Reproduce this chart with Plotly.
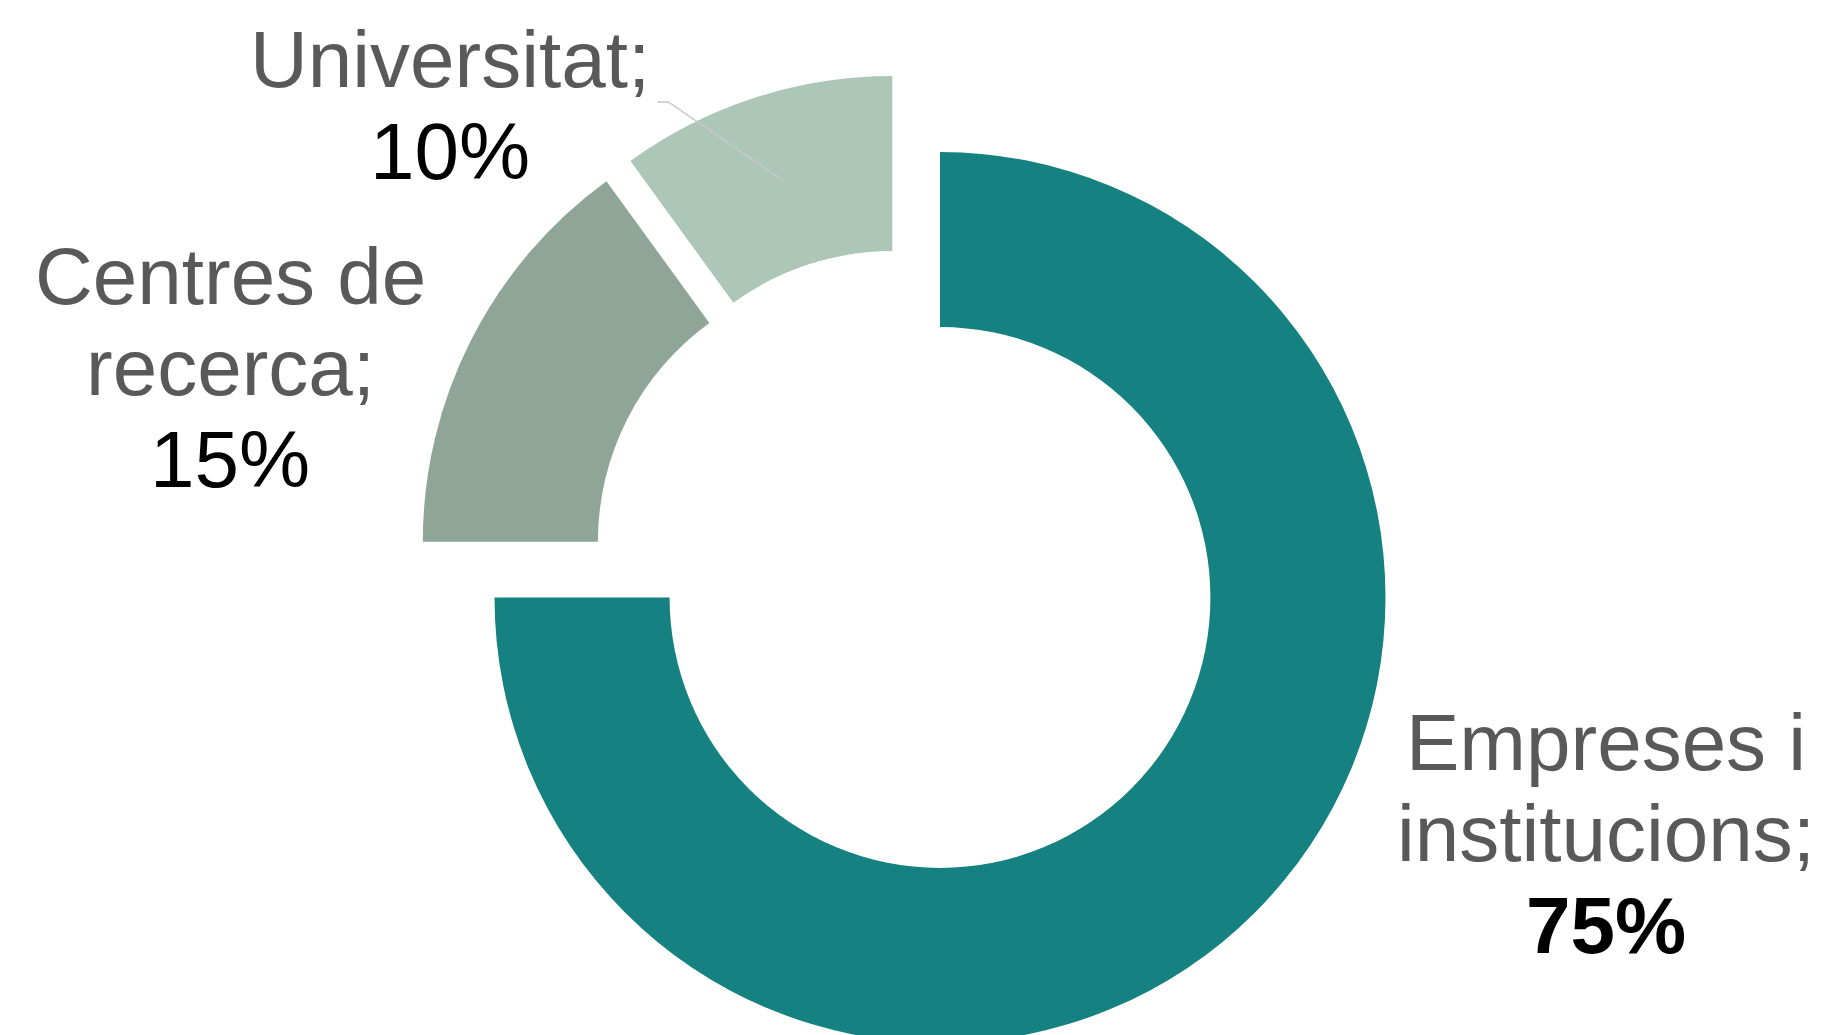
import textwrap
import plotly.graph_objects as go

# ---- data ----
categories = ["Empreses i institucions", "Centres de recerca", "Universitat"]
values = [75, 15, 10]
colors = ["#158180", "#8EA598", "#ACC6B8"]

# ---- layout geometry (screen pixels) ----
W, H = 1824, 1050
OFF = 8  # page body margin
R_OUT = 445.5
HOLE = 0.607
# centre of each exploded slice
slice_centres = [(940.0, 597.5), (868.3, 541.7), (892.3, 521.5)]
# label blocks: centre x, first baseline
label_pos = [(1606, 770), (230, 304), (450, 87.3)]
LINE_H = 91.5
FONT = "Liberation Sans, Arial, sans-serif"
FS = 80

fig = go.Figure()

for i, (cx, cy) in enumerate(slice_centres):
    cols = ["rgba(0,0,0,0)"] * len(values)
    cols[i] = colors[i]
    px, py = cx - OFF, cy - OFF
    fig.add_trace(go.Pie(
        labels=categories, values=values, sort=False, direction="clockwise",
        rotation=0, hole=HOLE, marker=dict(colors=cols, line=dict(width=0)),
        textinfo="none", hoverinfo="skip", showlegend=False,
        domain=dict(x=[(px - R_OUT) / W, (px + R_OUT) / W],
                    y=[1 - (py + R_OUT) / H, 1 - (py - R_OUT) / H]),
    ))

annotations = []
for cat, val, (lx, ly) in zip(categories, values, label_pos):
    lines = textwrap.wrap(cat + ";", width=13, break_long_words=False)
    pct = f"{val}%"
    all_lines = [(t, "#595959", False) for t in lines] + [(pct, "#000000", val == max(values))]
    for k, (t, c, bold) in enumerate(all_lines):
        base = ly + k * LINE_H
        annotations.append(dict(
            x=lx, y=base - 0.3465 * FS, xref="x", yref="y", text=f"<b>{t}</b>" if bold else t,
            showarrow=False, xanchor="center", yanchor="middle",
            font=dict(family=FONT, size=FS, color=c),
        ))

fig.update_layout(
    width=W, height=H, margin=dict(l=0, r=0, t=0, b=0),
    paper_bgcolor="white", plot_bgcolor="white",
    xaxis=dict(range=[OFF, W + OFF], visible=False, fixedrange=True),
    yaxis=dict(range=[H + OFF, OFF], visible=False, fixedrange=True),
    annotations=annotations,
    shapes=[dict(type="path", xref="x", yref="y",
                 path="M 657.3 102 L 668.3 102 L 783.3 180.7",
                 line=dict(color="#C8C8C8", width=1.5))],
)

fig.write_html("out.html")
